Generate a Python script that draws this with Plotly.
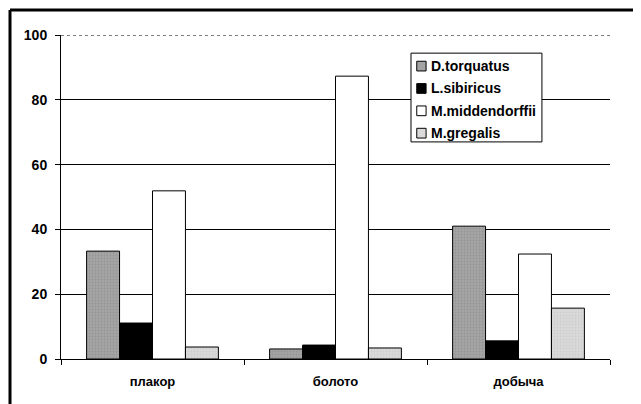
import plotly.graph_objects as go

# habitat categories and share (%) of each species
categories = ["плакор", "болото", "добыча"]
species = ["D.torquatus", "L.sibiricus", "M.middendorffii", "M.gregalis"]
d_torquatus = [33.3, 3.1, 41.0]
l_sibiricus = [11.1, 4.3, 5.6]
m_middendorffii = [51.9, 87.3, 32.4]
m_gregalis = [3.7, 3.4, 15.7]

y_ticks = [0, 20, 40, 60, 80, 100]

series = [d_torquatus, l_sibiricus, m_middendorffii, m_gregalis]
colors = ["#a4a4a4", "#000000", "#ffffff", "#dadada"]
dots = ["#858585", "#000000", "#ffffff", "#c2c2c2"]

fig = go.Figure()
for name, values, color, dot in zip(species, series, colors, dots):
    fig.add_trace(go.Bar(
        x=categories,
        y=values,
        name=name,
        marker=dict(color=color, line=dict(color="#000000", width=1),
                    pattern=dict(shape="." if dot != color else "",
                                 bgcolor=color, fgcolor=dot,
                                 size=3, solidity=0.35)),
    ))

font_bold = dict(family="Liberation Sans, Arial, sans-serif", size=14,
                 color="#000000", weight="bold")

# page body has an 8px margin, so the figure is a bit smaller than the window
fig.update_layout(
    width=633,
    height=396,
    barmode="group",
    bargap=0.28,
    bargroupgap=0,
    plot_bgcolor="#ffffff",
    paper_bgcolor="#ffffff",
    margin=dict(l=53, r=31, t=27, b=45),
    font=font_bold,
    showlegend=False,
)

fig.update_xaxes(
    showline=True, linecolor="#000000", linewidth=1,
    ticks="outside", tickson="boundaries", ticklen=5, tickcolor="#000000",
    tickfont=dict(font_bold, size=13), showgrid=False, ticklabelstandoff=10,
)
fig.update_yaxes(
    range=[0, 100], tickvals=y_ticks,
    showline=True, linecolor="#000000", linewidth=1,
    ticks="outside", ticklen=5, tickcolor="#000000",
    showgrid=True, gridcolor="#000000", gridwidth=1,
    zeroline=False, tickfont=font_bold, ticklabelstandoff=5,
)

# dotted line at the top of the plot area
fig.add_shape(type="line", xref="paper", yref="y", x0=0, x1=1, y0=100, y1=100,
              line=dict(color="#ffffff", width=2))
fig.add_shape(type="line", xref="paper", yref="y", x0=0, x1=1, y0=100, y1=100,
              line=dict(color="#000000", width=1, dash="dot"))

# legend drawn by hand (compact box like in the original)
fig.add_shape(type="rect", xref="paper", yref="paper",
              x0=0.6375, x1=0.876, y0=0.670, y1=0.944,
              line=dict(color="#000000", width=1), fillcolor="#ffffff")
for i, (name, color) in enumerate(zip(species, colors)):
    yc = 0.904 - i * 0.069
    fig.add_shape(type="rect", xref="paper", yref="paper",
                  x0=0.648, x1=0.665, y0=yc - 0.015, y1=yc + 0.015,
                  line=dict(color="#000000", width=1), fillcolor=color)
    fig.add_annotation(xref="paper", yref="paper", x=0.670, y=yc,
                       xanchor="left", yanchor="middle", showarrow=False,
                       text=name, font=font_bold)

# outer frame (left and top edges)
fig.add_shape(type="line", xref="paper", yref="paper", x0=-0.0929, x1=-0.0929,
              y0=-0.14, y1=1.0772, line=dict(color="#000000", width=3))
fig.add_shape(type="line", xref="paper", yref="paper", x0=-0.0929, x1=1.049,
              y0=1.0772, y1=1.0772, line=dict(color="#000000", width=3))

fig.write_html("out.html")
